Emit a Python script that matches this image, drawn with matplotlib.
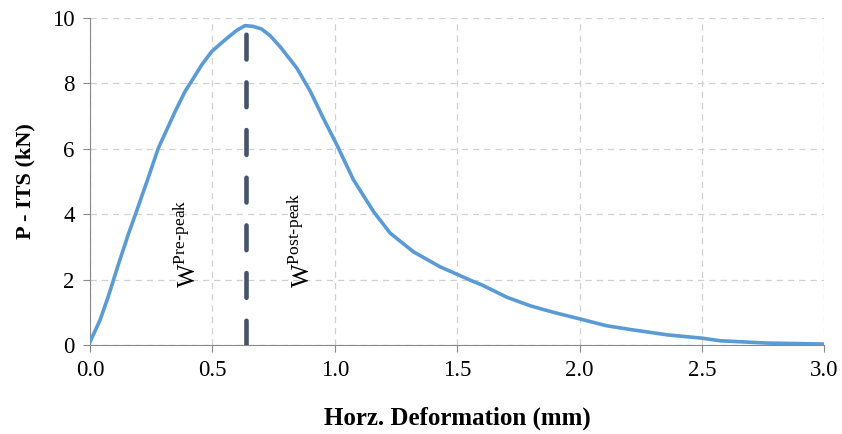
import numpy as np
import matplotlib.pyplot as plt

# load-deformation curve
deform = [0.0, 0.04, 0.075, 0.115, 0.157, 0.195, 0.232, 0.279, 0.347, 0.388,
          0.416, 0.456, 0.497, 0.552, 0.60, 0.633, 0.665, 0.70, 0.736, 0.776, 0.845,
          0.90, 0.953, 1.008, 1.076, 1.158, 1.226, 1.321, 1.43, 1.50, 1.566, 1.60,
          1.703, 1.798, 1.893, 2.0, 2.11, 2.22, 2.36, 2.50, 2.575, 2.765, 3.0]
load = [0.1, 0.75, 1.5, 2.45, 3.4, 4.2, 4.99, 6.02, 7.13, 7.75,
        8.08, 8.56, 8.97, 9.33, 9.62, 9.76, 9.74, 9.66, 9.45, 9.12, 8.46,
        7.75, 6.93, 6.12, 5.05, 4.08, 3.42, 2.85, 2.39, 2.16, 1.94, 1.84,
        1.46, 1.20, 1.00, 0.80, 0.59, 0.46, 0.31, 0.21, 0.13, 0.06, 0.03]
peak_x = 0.638
peak_top = 9.5

plt.rcParams['font.family'] = ['Liberation Serif', 'DejaVu Serif']

fig = plt.figure(figsize=(8.42, 4.34), dpi=100)
ax = fig.add_axes([0.107, 0.205, 0.872, 0.754])

ax.plot(deform, load, color='#5B9BD5', linewidth=2.6, zorder=3)
ax.plot([peak_x, peak_x], [0, peak_top], color='#44546A', linewidth=3.3,
        dashes=(5.4, 5.0), dash_capstyle='round', zorder=4)

ax.text(0.40, 1.75, r'W$^{\mathregular{Pre\text{-}peak}}$', rotation=90, fontsize=18,
        ha='center', va='bottom')
ax.text(0.865, 1.75, r'W$^{\mathregular{Post\text{-}peak}}$', rotation=90, fontsize=18,
        ha='center', va='bottom')

ax.set_xlim(0, 3.0)
ax.set_ylim(0, 10)
ax.set_xticks(np.arange(0, 3.01, 0.5))
ax.set_xticklabels(['0.0', '0.5', '1.0', '1.5', '2.0', '2.5', '3.0'])
ax.set_yticks([0, 2, 4, 6, 8, 10])
ax.tick_params(labelsize=16.5, color='#898989', length=5, pad=6)
ax.grid(True, color='#D0D0D0', linestyle=(0, (5, 4)), linewidth=0.9)
ax.set_axisbelow(True)
for s in ['top', 'right']:
    ax.spines[s].set_visible(False)
for s in ['left', 'bottom']:
    ax.spines[s].set_color('#898989')

ax.set_xlabel('Horz. Deformation (mm)', fontsize=18, fontweight='bold', labelpad=18)
ax.set_ylabel('P - ITS (kN)', fontsize=16, fontweight='bold', labelpad=12)

fig.savefig('out.png', dpi=100)
